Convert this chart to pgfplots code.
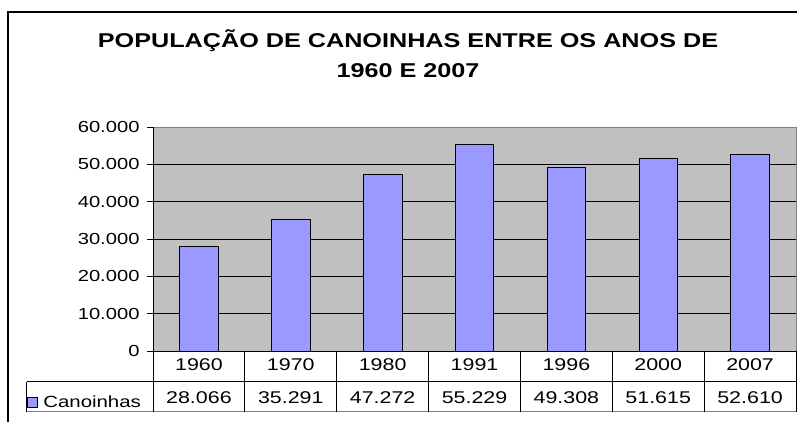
\documentclass[border=0pt]{standalone}
\usepackage{fontspec}
\setmainfont[FakeStretch=1.26]{Liberation Sans}
\usepackage{pgfplots}
\pgfplotsset{compat=1.18}
\usepackage{pgfplotstable}
\definecolor{barblue}{HTML}{9999FF}
\definecolor{plotgray}{HTML}{C0C0C0}
\definecolor{bordergray}{HTML}{808080}
\pgfplotstableread{
x year pop
0 1960 28066
1 1970 35291
2 1980 47272
3 1991 55229
4 1996 49308
5 2000 51615
6 2007 52610
}\datatable
\begin{document}
\begin{tikzpicture}[x=1bp,y=1bp]
\useasboundingbox (0,0) rectangle (797,421);
\draw[line width=2bp] (8,-5) -- (8,409) -- (805,409);
\node[font=\bfseries\fontsize{20bp}{24bp}\selectfont, anchor=base] at (408,374) {POPULAÇÃO DE CANOINHAS ENTRE OS ANOS DE};
\node[font=\bfseries\fontsize{20bp}{24bp}\selectfont, anchor=base] at (408,344) {1960 E 2007};
\begin{axis}[at={(153bp,70bp)}, anchor=south west, scale only axis,
  width=643bp, height=224bp,
  xmin=-0.5, xmax=6.5, ymin=0, ymax=60000,
  clip=false,
  axis line style={draw=none},
  axis background/.style={fill=plotgray},
  ymajorgrids, grid style={black, line width=0.8bp},
  ytick={0,10000,...,60000},
  scaled y ticks=false,
  /pgf/number format/assume math mode=true,
  /pgf/number format/1000 sep={.},
  yticklabel style={font=\fontsize{16bp}{19bp}\selectfont, xshift=-4bp},
  tick align=outside, major tick length=6bp,
  ytick style={black, line width=0.8bp},
  xtick={0,...,6},
  xticklabels={1960,1970,1980,1991,1996,2000,2007},
  xtick style={draw=none},
  xticklabel style={font=\fontsize{17bp}{20bp}\selectfont, anchor=base, yshift=-13bp},
  legend style={at={(-0.197,-0.2277)}, anchor=west, draw=none, fill=none,
    font=\fontsize{16.2bp}{19bp}\selectfont, inner sep=0pt},
  legend image code/.code={\draw[fill=barblue, draw=black, line width=0.8bp] (0bp,-5bp) rectangle (10bp,5bp); \path (14bp,0bp);},
]
\addplot[ybar, bar width=38.6bp, bar shift=0pt, fill=barblue, draw=black, line width=0.8bp]
  table[x=x, y=pop] {\datatable};
\addlegendentry{Canoinhas}
\addplot[draw=none, mark=none, point meta=explicit, forget plot,
  nodes near coords={\pgfmathprintnumber[1000 sep={.}, assume math mode=true]{\pgfplotspointmeta}},
  nodes near coords style={anchor=base, yshift=0pt, font=\fontsize{17bp}{20bp}\selectfont, black}]
  table[x=x, y expr=-14000, meta=pop] {\datatable};
\draw[bordergray, line width=1bp] (rel axis cs:0,1) -- (rel axis cs:1,1) -- (rel axis cs:1,0);
\draw[black, line width=0.8bp] (rel axis cs:0,1) -- (rel axis cs:0,0) -- (rel axis cs:1,0);
\end{axis}
\draw[black, line width=0.8bp] (26.7,39.5) -- (796,39.5);
\draw[bordergray, line width=1.2bp] (26.7,9.5) -- (796,9.5);
\draw[black, line width=0.8bp] (26.7,9.5) -- (26.7,39.5);
\foreach \k in {0,...,7} \draw[black, line width=0.8bp] ({153+\k*91.857},9.5) -- ({153+\k*91.857},70);
\end{tikzpicture}
\end{document}
